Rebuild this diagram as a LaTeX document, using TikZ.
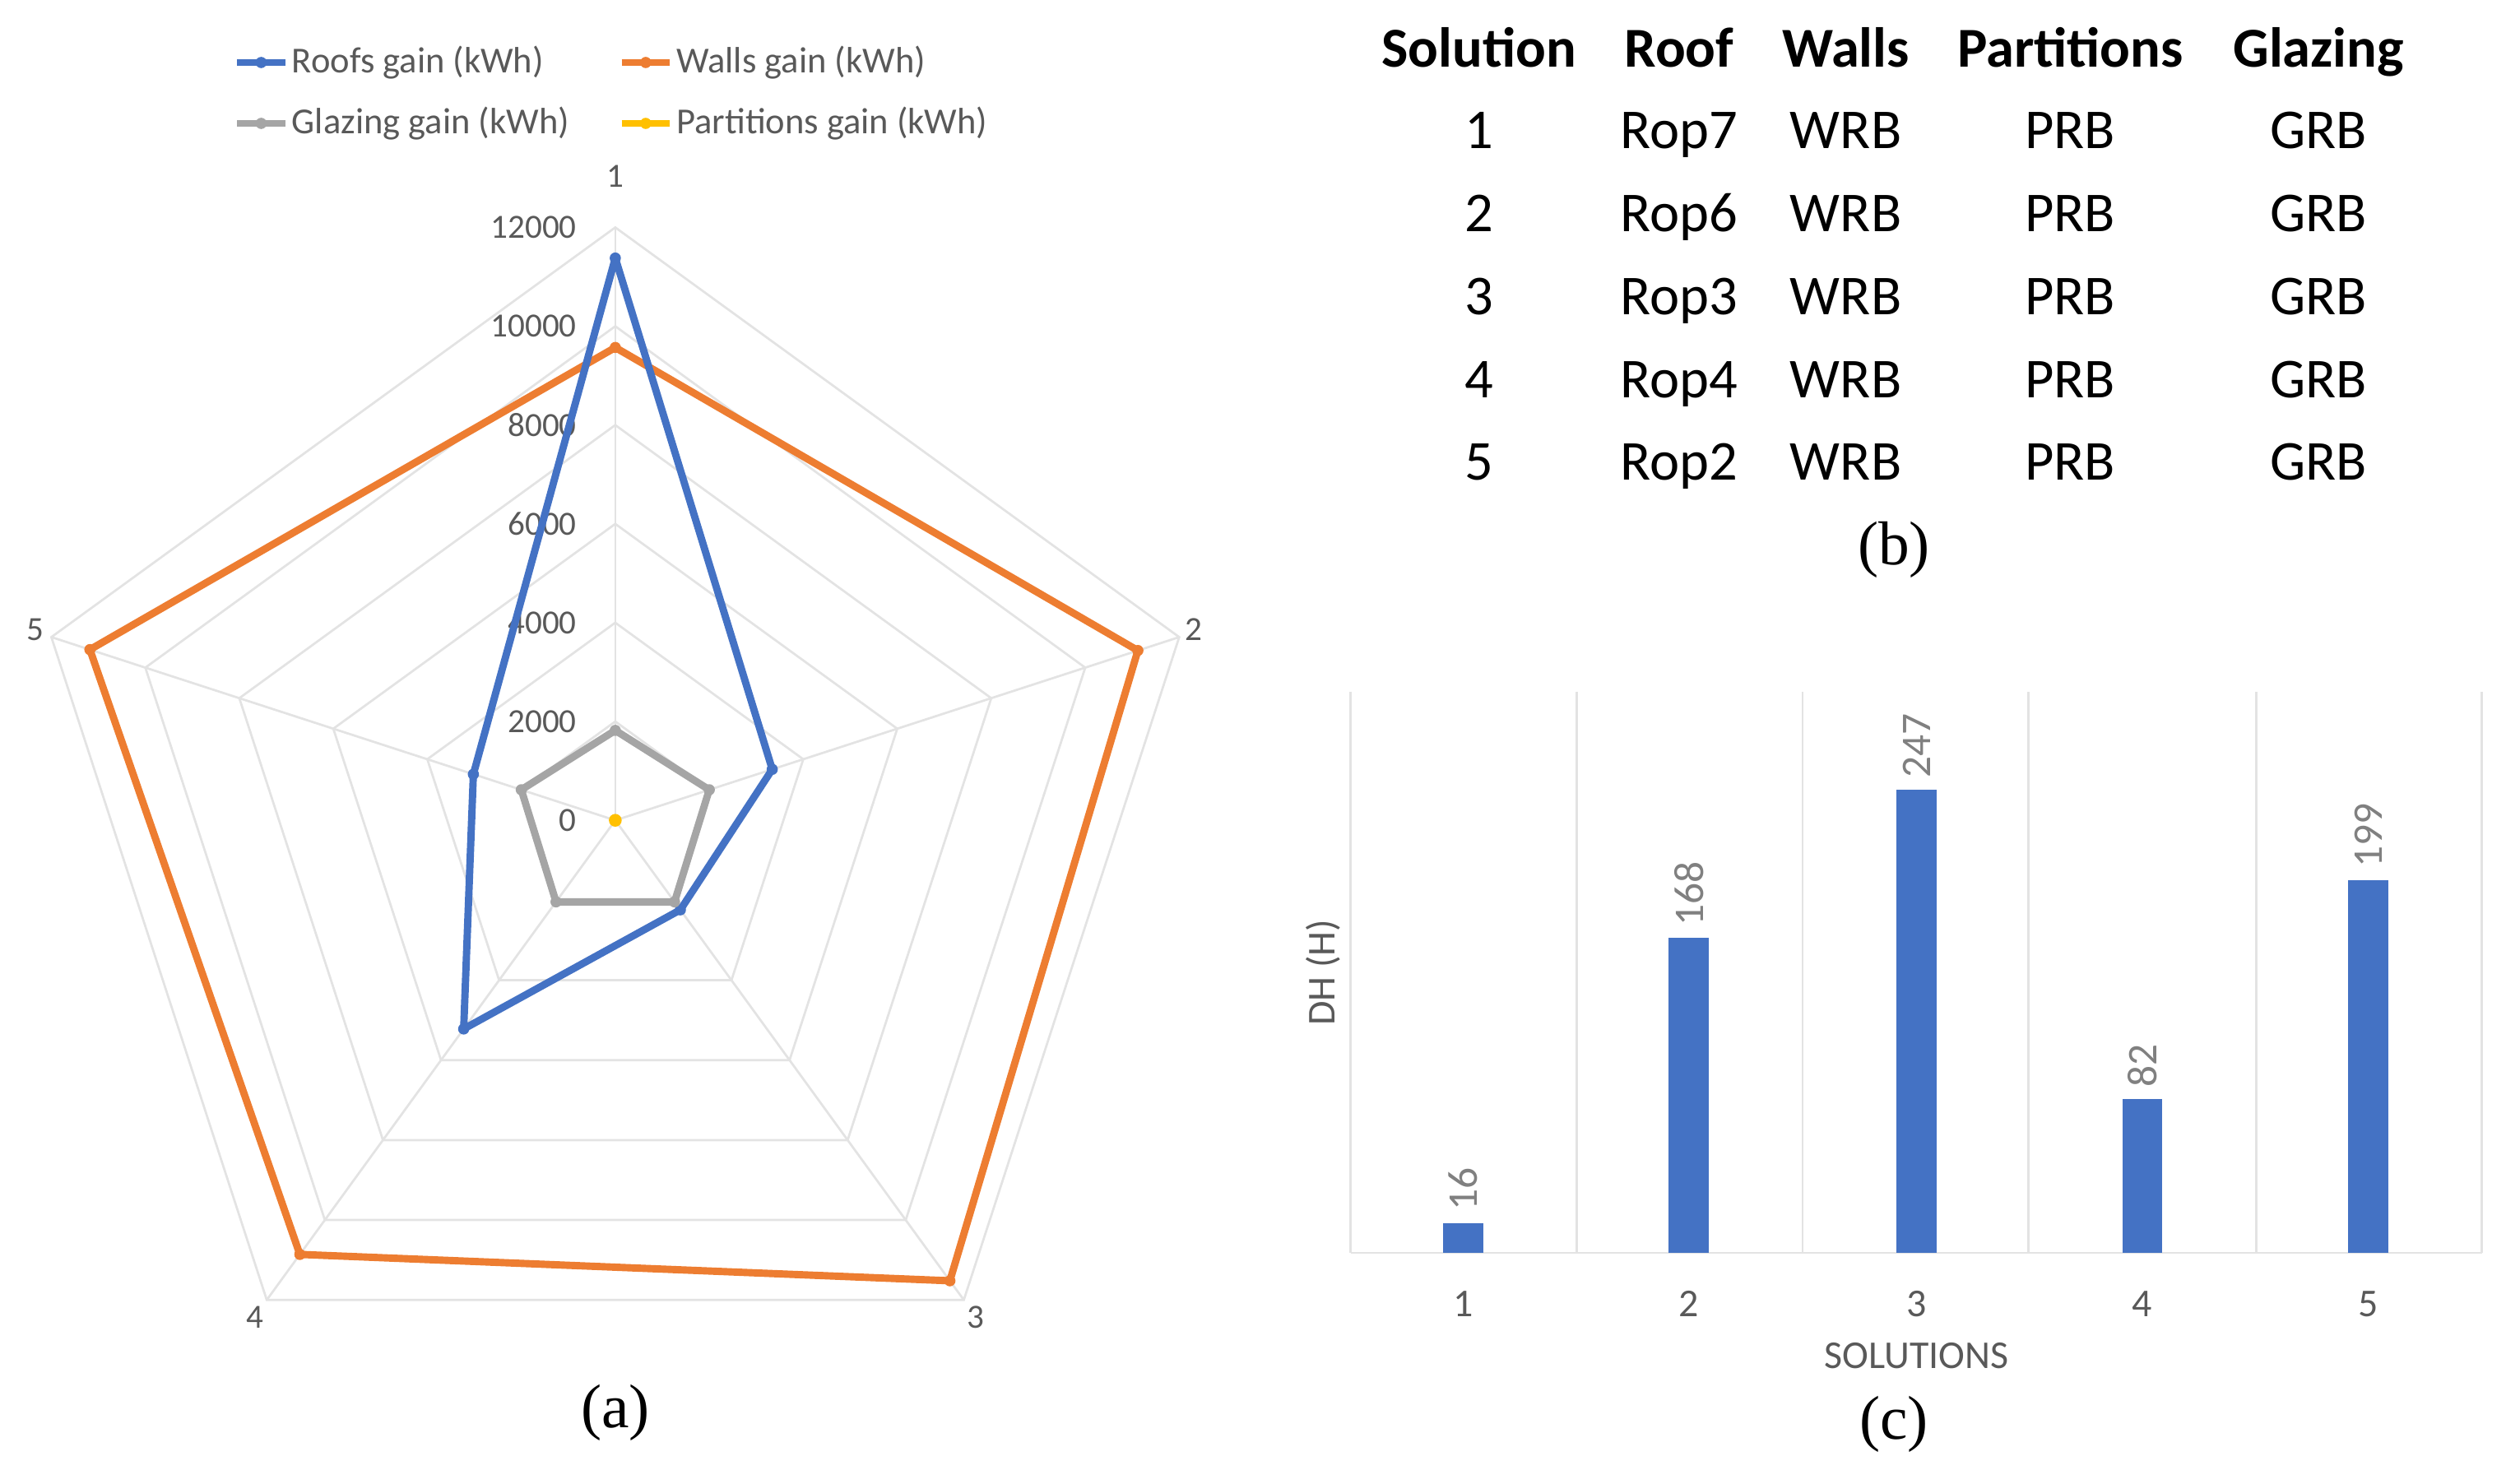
\documentclass[tikz,border=0pt]{standalone}
\usepackage{fontspec}
\setmainfont{Carlito}
\newfontfamily\serif{Liberation Serif}
\usetikzlibrary{positioning}
\definecolor{roofblue}{HTML}{4472C4}
\definecolor{wallorange}{HTML}{ED7D31}
\definecolor{glazegray}{HTML}{A5A5A5}
\definecolor{partyellow}{HTML}{FFC000}
\definecolor{ticktext}{HTML}{595959}
\definecolor{gridgray}{HTML}{E3E3E3}
\newcommand{\radpt}[2]{({-(90-72*(#1-1))}:{#2*0.0308333})}
\tikzset{
  tick/.style={text=ticktext, font=\fontsize{6}{7}\selectfont, inner sep=1pt},
  legend/.style={tick, anchor=west, font=\fontsize{6.5}{8}\selectfont},
  cell/.style={font=\fontsize{10}{12}\selectfont, inner sep=0pt, text height=7pt, text depth=2pt},
  head/.style={cell, font=\fontsize{10}{12}\selectfont\bfseries},
  caption/.style={font=\serif\fontsize{11}{13}\selectfont, inner sep=0pt},
  series/.style={line width=1.3pt, line join=round},
  bar/.style={fill=roofblue, draw=none},
  barval/.style={text=gray, font=\fontsize{7.5}{9}\selectfont, rotate=90, anchor=west, inner sep=2pt}
}
\begin{document}
\begin{tikzpicture}[x=0.01cm, y=-0.01cm]
\useasboundingbox (0,0) rectangle (1564,926);

% (a) radar chart
\begin{scope}[shift={(384,512)}]
\foreach \v in {2000,4000,...,12000}
  \draw[gridgray, thin] \radpt{1}{\v} -- \radpt{2}{\v} -- \radpt{3}{\v} -- \radpt{4}{\v} -- \radpt{5}{\v} -- cycle;
\foreach \k in {1,...,5}
  \draw[gridgray, thin] (0,0) -- \radpt{\k}{12000};
\foreach \v in {0,2000,...,12000}
  \node[tick, anchor=east] (scale\v) at ({-20},{-\v*0.0308333}) {\v};
\node[tick] (ax1) at (0,-402) {1};
\node[tick] (ax2) at (361,-119) {2};
\node[tick] (ax3) at (225,310) {3};
\node[tick] (ax4) at (-225,310) {4};
\node[tick] (ax5) at (-362,-119) {5};
% walls
\draw[series, wallorange] \radpt{1}{9570} -- \radpt{2}{11120} -- \radpt{3}{11520} -- \radpt{4}{10860} -- \radpt{5}{11180} -- cycle;
\foreach \k/\v in {1/9570,2/11120,3/11520,4/10860,5/11180}
  \fill[wallorange] \radpt{\k}{\v} circle (3.5);
% roofs
\draw[series, roofblue] \radpt{1}{11380} -- \radpt{2}{3340} -- \radpt{3}{2240} -- \radpt{4}{5220} -- \radpt{5}{3020} -- cycle;
\foreach \k/\v in {1/11380,2/3340,3/2240,4/5220,5/3020}
  \fill[roofblue] \radpt{\k}{\v} circle (3.5);
% glazing
\draw[series, glazegray] \radpt{1}{1820} -- \radpt{2}{2000} -- \radpt{3}{2040} -- \radpt{4}{2040} -- \radpt{5}{2000} -- cycle;
\foreach \k/\v in {1/1820,2/2000,3/2040,4/2040,5/2000}
  \fill[glazegray] \radpt{\k}{\v} circle (3.5);
% partitions
\fill[partyellow] (0,0) circle (4);
\end{scope}

% legend
\draw[series, roofblue] (148,39) -- (178,39); \fill[roofblue] (163,39) circle (3.5);
\node[legend] (legroof) at (178,39) {Roofs gain (kWh)};
\draw[series, wallorange] (388,39) -- (418,39); \fill[wallorange] (403,39) circle (3.5);
\node[legend] (legwall) at (418,39) {Walls gain (kWh)};
\draw[series, glazegray] (148,77) -- (178,77); \fill[glazegray] (163,77) circle (3.5);
\node[legend] (legglaze) at (178,77) {Glazing gain (kWh)};
\draw[series, partyellow] (388,77) -- (418,77); \fill[partyellow] (403,77) circle (3.5);
\node[legend] (legpart) at (418,77) {Partitions gain (kWh)};
\node[caption] (capa) at (384,882) {(a)};

% (b) table
\node[head] (hsol) at (923,33) {Solution};
\node[head] (hroof) at (1048,33) {Roof};
\node[head] (hwall) at (1152,33) {Walls};
\node[head] (hpart) at (1292,33) {Partitions};
\node[head] (hglaze) at (1447,33) {Glazing};
\foreach \n/\r [count=\i] in {1/Rop7,2/Rop6,3/Rop3,4/Rop4,5/Rop2} {
  \pgfmathsetmacro{\yy}{84+51.75*(\i-1)}
  \node[cell] (sol\i) at (923,\yy) {\n};
  \node[cell] (roof\i) at (1048,\yy) {\r};
  \node[cell] (wall\i) at (1152,\yy) {WRB};
  \node[cell] (part\i) at (1292,\yy) {PRB};
  \node[cell] (glaze\i) at (1447,\yy) {GRB};
}
\node[caption] (capb) at (1182,343) {(b)};

% (c) bar chart
\foreach \x in {843,984,1125,1266,1408,1549}
  \draw[gridgray, thin] (\x,432) -- (\x,782);
\draw[gridgray, thin] (843,782) -- (1549,782);
\foreach \x/\v [count=\i] in {913/16,1054/168,1196/247,1337/82,1478/199} {
  \fill[bar] ({\x-12.5},782) rectangle ({\x+12.5},{782-\v*1.17});
  \node[barval] (val\i) at (\x,{782-\v*1.17}) {\v};
  \node[tick, font=\fontsize{7}{8}\selectfont] (cat\i) at (\x,814) {\i};
}
\node[tick, font=\fontsize{7}{8}\selectfont] (xtitle) at (1196,846) {SOLUTIONS};
\node[tick, font=\fontsize{7}{8}\selectfont, rotate=90] (ytitle) at (826,607) {DH (H)};
\node[caption] (capc) at (1182,889) {(c)};
\end{tikzpicture}
\end{document}
